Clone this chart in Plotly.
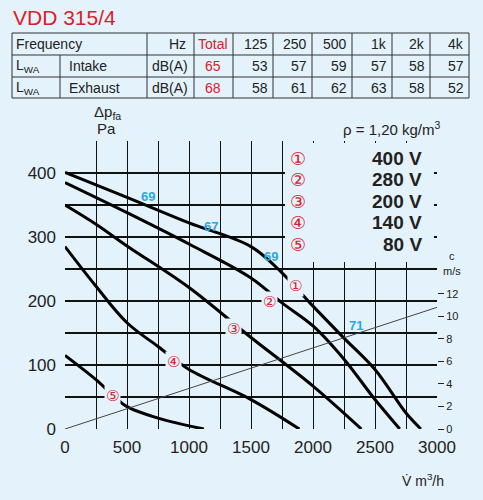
import plotly.graph_objects as go

BG = "#e4f2fc"
RED = "#d9202c"
BLUE = "#2aa7e1"

# ---- data ----
flow1 = [0, 500, 1000, 1500, 1750, 2000, 2250, 2500, 2750, 2870]
pres1 = [401, 362, 322, 285, 244, 192, 142, 93, 25, 0]
flow2 = [0, 500, 1000, 1500, 1750, 2000, 2250, 2500, 2700]
pres2 = [385, 338, 289, 236, 197, 161, 109, 46, 0]
flow3 = [0, 250, 500, 1000, 1500, 2000, 2390]
pres3 = [350, 320, 286, 221, 143, 67, 0]
flow4 = [0, 250, 500, 750, 1000, 1500, 1890]
pres4 = [285, 223, 166, 129, 93, 46, 0]
flow5 = [0, 250, 400, 500, 750, 1120]
pres5 = [115, 77, 50, 35, 17, 0]
curves = [(flow1, pres1), (flow2, pres2), (flow3, pres3), (flow4, pres4), (flow5, pres5)]
curve_marks = ["①", "②", "③", "④", "⑤"]
curve_mark_pos = [(1859, 224), (1652, 199), (1362, 156), (876, 105), (381, 51)]
voltages = ["400 V", "280 V", "200 V", "140 V", "80 V"]
velocity_flow = [0, 3000]
velocity_ms = [0, 10.8]
db_labels = ["69", "67", "69", "71"]
db_pos = [(672, 364), (1179, 316), (1663, 269), (2350, 162)]

table_header = ["Frequency", "Hz", "Total", "125", "250", "500", "1k", "2k", "4k"]
intake = ["53", "57", "59", "57", "58", "57"]
exhaust = ["58", "61", "62", "63", "58", "52"]
intake_total = "65"
exhaust_total = "68"

# ---- layout helpers (pixel -> paper) ----
L, R, T, B = 65, 437, 141, 429
def px(x): return (x - L) / (R - L)
def py(y): return (B - y) / (B - T)

fig = go.Figure()
for (f, p) in curves:
    fig.add_trace(go.Scatter(x=f, y=p, mode="lines", line=dict(color="black", width=3, shape="spline"),
                             showlegend=False, hoverinfo="skip"))
fig.add_trace(go.Scatter(x=velocity_flow, y=velocity_ms, yaxis="y2", mode="lines",
                         line=dict(color="#444", width=1), showlegend=False, hoverinfo="skip"))

ann = []
shapes = []
def note(x, y, text, size, color, family="Liberation Sans", anchor="center", ref="paper", bg=None):
    d = dict(x=x, y=y, text=text, showarrow=False, xanchor=anchor, yanchor="middle",
             font=dict(size=size, color=color, family=family))
    if ref == "paper":
        d.update(xref="paper", yref="paper")
    if bg:
        d["bgcolor"] = bg
    ann.append(d)

for m, (x, y) in zip(curve_marks, curve_mark_pos):
    note(x, y, m, 15, RED, "DejaVu Sans", ref="data", bg=BG)
for t, (x, y) in zip(db_labels, db_pos):
    note(x, y, "<b>" + t + "</b>", 13, BLUE, ref="data")

# legend box
shapes.append(dict(type="rect", xref="paper", yref="paper", x0=px(285), x1=px(434), y0=py(262), y1=py(143),
                   fillcolor=BG, line=dict(width=0), layer="above"))
for i, (m, v) in enumerate(zip(curve_marks, voltages)):
    yy = 158 + i * 21.5
    note(px(298), py(yy), m, 18, RED, "DejaVu Sans")
    note(px(424), py(yy), "<b>" + v + "</b>", 19, "#222", anchor="right")

# table
cols = [12, 60, 147, 194, 233, 273, 312, 352, 392, 430, 469]
rows = [33, 55, 77, 98]
for y in rows:
    shapes.append(dict(type="line", xref="paper", yref="paper", x0=px(cols[0]), x1=px(cols[-1]), y0=py(y), y1=py(y),
                       line=dict(color="#333", width=1)))
for i, x in enumerate(cols):
    y0 = rows[1] if i == 1 else rows[0]
    shapes.append(dict(type="line", xref="paper", yref="paper", x0=px(x), x1=px(x), y0=py(y0), y1=py(rows[-1]),
                       line=dict(color="#333", width=1)))
TF = "Liberation Sans Narrow, Liberation Sans"
def cell(text, x, row, anchor="right", color="#222"):
    yc = (rows[row] + rows[row + 1]) / 2
    note(px(x), py(yc), text, 14, color, TF, anchor)
cell(table_header[0], 14, 0, "left")
cell(table_header[1], 177, 0, "center")
cell(table_header[2], 213, 0, "center", RED)
for j, h in enumerate(table_header[3:]):
    cell(h, cols[j + 5] - 3, 0)
for r, (lab, tot, vals) in enumerate([("Intake", intake_total, intake), ("Exhaust", exhaust_total, exhaust)], start=1):
    cell("L<sub>WA</sub>", 14, r, "left")
    cell(lab, 67, r, "left")
    cell("dB(A)", 170, r, "center")
    cell(tot, 213, r, "center", RED)
    for j, v in enumerate(vals):
        cell(v, cols[j + 5] - 3, r)

note(px(11), py(17), "VDD 315/4", 21, RED, anchor="left")
note(px(92), py(112), "Δp<sub>fa</sub>", 15, "#222", anchor="left")
note(px(95), py(128), "Pa", 15, "#222", anchor="left")
note(px(443), py(129), "ρ = 1,20 kg/m<sup>3</sup>", 15, "#222", anchor="right")
note(px(446), py(480), "V̇ m<sup>3</sup>/h", 14, "#222", anchor="right")
note(px(452), py(256), "c", 11, "#222")
note(px(452), py(271), "m/s", 11, "#222")

fig.update_layout(
    width=483, height=500, paper_bgcolor=BG, plot_bgcolor=BG,
    margin=dict(l=L, r=483 - R, t=T, b=500 - B, autoexpand=False),
    xaxis=dict(range=[0, 3000], tickvals=[0, 500, 1000, 1500, 2000, 2500, 3000],
               showgrid=True, gridcolor="#111", gridwidth=1.3, zeroline=False, automargin=False,
               ticklabelstandoff=6,
               minor=dict(tickvals=[250, 750, 1250, 1750, 2250, 2750], showgrid=True, gridcolor="#111", gridwidth=1.3),
               tickfont=dict(size=17, family="Liberation Sans", color="#222"), ticks=""),
    yaxis=dict(range=[0, 450], tickvals=[0, 100, 200, 300, 400], showgrid=True, gridcolor="#111", gridwidth=1.5,
               zeroline=False, automargin=False, ticklabelstandoff=8,
               minor=dict(tickvals=[50, 150, 250, 350], showgrid=True, gridcolor="#111", gridwidth=1.5),
               tickfont=dict(size=17, family="Liberation Sans", color="#222"), ticks=""),
    yaxis2=dict(overlaying="y", side="right", range=[0, 450 / 17.6], tickvals=[0, 2, 4, 6, 8, 10, 12],
                showgrid=False, zeroline=False, ticks="outside", ticklen=6, tickcolor="#222", automargin=False,
                tickfont=dict(size=11, family="Liberation Sans", color="#222")),
    annotations=ann, shapes=shapes,
)
fig.write_html("out.html", config={"displayModeBar": False},
               post_script="document.body.style.margin='0';document.body.style.overflow='hidden';")
